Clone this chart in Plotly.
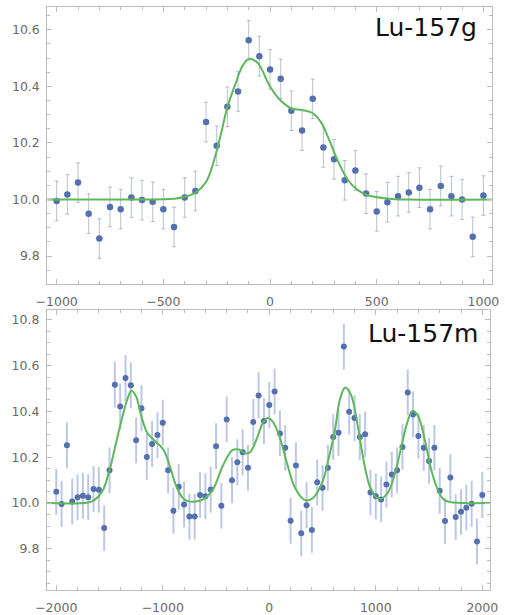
import plotly.graph_objects as go

# ---- Lu-157g: ground state scan ----
freq_g = list(range(-1000, 1001, 50))
signal_g = [9.995, 10.018, 10.06, 9.95, 9.862, 9.974, 9.966, 10.007, 9.998, 9.992,
            9.966, 9.903, 10.007, 10.03, 10.274, 10.19, 10.328, 10.382, 10.563, 10.507,
            10.46, 10.427, 10.314, 10.244, 10.356, 10.184, 10.142, 10.068, 10.103, 10.021,
            9.958, 9.99, 10.012, 10.025, 10.042, 9.966, 10.048, 10.012, 10.0, 9.868, 10.014]
err_g = [0.07] * len(freq_g)

fit_x_g = [-1045, -700, -500, -450, -400, -350, -300, -260, -230, -200, -160, -130, -100,
           -60, -40, 0, 50, 100, 150, 200, 240, 275, 320, 365, 410, 455, 545, 650, 1040]
fit_y_g = [10.0, 10.0, 10.001, 10.003, 10.009, 10.024, 10.062, 10.145, 10.232, 10.326,
           10.413, 10.471, 10.497, 10.485, 10.462, 10.40, 10.35, 10.322, 10.317, 10.305,
           10.272, 10.215, 10.133, 10.069, 10.034, 10.016, 10.004, 10.0, 10.0]

# ---- Lu-157m: isomer scan ----
freq_m = list(range(-2000, 2001, 50))
signal_m = [10.049, 9.996, 10.252, 10.007, 10.025, 10.032, 10.026, 10.062, 10.058, 9.891,
            10.143, 10.517, 10.422, 10.546, 10.514, 10.274, 10.414, 10.201, 10.258, 10.297,
            10.351, 10.143, 9.967, 10.071, 9.994, 9.941, 9.942, 10.035, 10.030, 10.059,
            10.248, 9.988, 10.365, 10.1, 10.178, 10.222, 10.154, 10.354, 10.47, 10.358,
            10.428, 10.487, 10.304, 10.241, 9.923, 10.164, 9.868, 9.991, 9.883, 10.091,
            10.067, 10.154, 10.288, 10.307, 10.683, 10.399, 10.371, 10.288, 10.3, 10.046,
            10.03, 10.016, 10.081, 10.125, 10.143, 10.245, 10.483, 10.387, 10.293, 10.241,
            10.184, 10.241, 10.054, 9.922, 10.112, 9.939, 9.962, 9.980, 9.997, 9.832, 10.035]
err_m = [0.1] * len(freq_m)

fit_x_m = [-2090, -1700, -1640, -1566, -1506, -1446, -1386, -1334, -1295, -1250, -1205,
           -1145, -1070, -995, -934, -874, -800, -708, -618, -528, -437, -347, -286, -226,
           -181, -121, -61, -15, 30, 90, 165, 240, 331, 406, 496, 560, 617, 662, 713, 767,
           812, 857, 902, 948, 1008, 1053, 1114, 1173, 1234, 1294, 1345, 1399, 1460, 1520,
           1580, 1641, 1731, 2075]
fit_y_m = [10.0, 10.003, 10.014, 10.053, 10.133, 10.248, 10.364, 10.451, 10.49, 10.465,
           10.386, 10.306, 10.27, 10.234, 10.162, 10.075, 10.017, 10.006, 10.017, 10.061,
           10.162, 10.231, 10.234, 10.217, 10.222, 10.277, 10.349, 10.371, 10.357, 10.299,
           10.176, 10.068, 10.014, 10.02, 10.089, 10.2, 10.32, 10.45, 10.504, 10.472,
           10.386, 10.263, 10.147, 10.068, 10.024, 10.02, 10.046, 10.118, 10.234, 10.349,
           10.403, 10.378, 10.277, 10.147, 10.061, 10.014, 10.003, 10.0]

W, H = 505, 615
POINT = "#5470AE"
GREEN = "#5DB85A"
FRAME = "#BDBDBD"
LABEL = "#6A6A6A"

fig = go.Figure()

fig.add_trace(go.Scatter(
    x=freq_g, y=signal_g, mode="markers",
    marker=dict(color=POINT, size=6.5),
    error_y=dict(type="data", array=err_g, color="rgba(125,140,170,0.55)",
                 thickness=1, width=2),
    xaxis="x", yaxis="y", showlegend=False))
fig.add_trace(go.Scatter(
    x=fit_x_g, y=fit_y_g, mode="lines",
    line=dict(color=GREEN, width=2, shape="spline", smoothing=1.0),
    xaxis="x", yaxis="y", showlegend=False))

fig.add_trace(go.Scatter(
    x=freq_m, y=signal_m, mode="markers",
    marker=dict(color=POINT, size=6),
    error_y=dict(type="data", array=err_m, color="rgba(135,155,205,0.55)",
                 thickness=2, width=0),
    xaxis="x2", yaxis="y2", showlegend=False))
fig.add_trace(go.Scatter(
    x=fit_x_m, y=fit_y_m, mode="lines",
    line=dict(color=GREEN, width=2, shape="spline", smoothing=1.0),
    xaxis="x2", yaxis="y2", showlegend=False))


def frame_axis(**kw):
    base = dict(
        showline=True, linecolor=FRAME, linewidth=1, mirror="ticks",
        ticks="inside", ticklen=5, tickcolor=FRAME, tickwidth=1,
        showgrid=False, zeroline=False, ticklabeloverflow="allow",
        tickfont=dict(family="DejaVu Sans", size=12.5, color=LABEL),
    )
    base.update(kw)
    return base


fig.update_layout(
    width=W, height=H,
    margin=dict(l=0, r=0, t=0, b=0),
    paper_bgcolor="white", plot_bgcolor="white",
    xaxis=frame_axis(domain=[37.7 / W, 499.3 / W], range=[-1044, 1038],
                     tickvals=[-1000, -500, 0, 500, 1000], anchor="y",
                     minor=dict(dtick=100, ticklen=3, tickcolor=FRAME, ticks="inside"),
                     ticklabelstandoff=6),
    yaxis=frame_axis(domain=[1 - 286.7 / H, 1 - 7 / H], range=[9.70, 10.681],
                     tickvals=[9.8, 10.0, 10.2, 10.4, 10.6], tickformat=".1f", anchor="x",
                     minor=dict(dtick=0.05, ticklen=3, tickcolor=FRAME, ticks="inside"),
                     ticklabelstandoff=4),
    xaxis2=frame_axis(domain=[37.3 / W, 497.7 / W], range=[-2088, 2072],
                      tickvals=[-2000, -1000, 0, 1000, 2000], anchor="y2",
                      minor=dict(dtick=200, ticklen=3, tickcolor=FRAME, ticks="inside"),
                      ticklabelstandoff=6),
    yaxis2=frame_axis(domain=[1 - 595 / H, 1 - 312.7 / H], range=[9.62, 10.842],
                      tickvals=[9.8, 10.0, 10.2, 10.4, 10.6, 10.8], tickformat=".1f",
                      anchor="x2",
                      minor=dict(dtick=0.05, ticklen=3, tickcolor=FRAME, ticks="inside"),
                      ticklabelstandoff=4),
    annotations=[
        dict(text="Lu-157g", xref="paper", yref="paper", x=486 / W, y=1 - 28 / H,
             xanchor="right", yanchor="middle", showarrow=False,
             font=dict(family="DejaVu Sans", size=25, color="#111111")),
        dict(text="Lu-157m", xref="paper", yref="paper", x=487 / W, y=1 - 336 / H,
             xanchor="right", yanchor="middle", showarrow=False,
             font=dict(family="DejaVu Sans", size=25, color="#111111")),
    ],
)

fig.write_html("out.html")
